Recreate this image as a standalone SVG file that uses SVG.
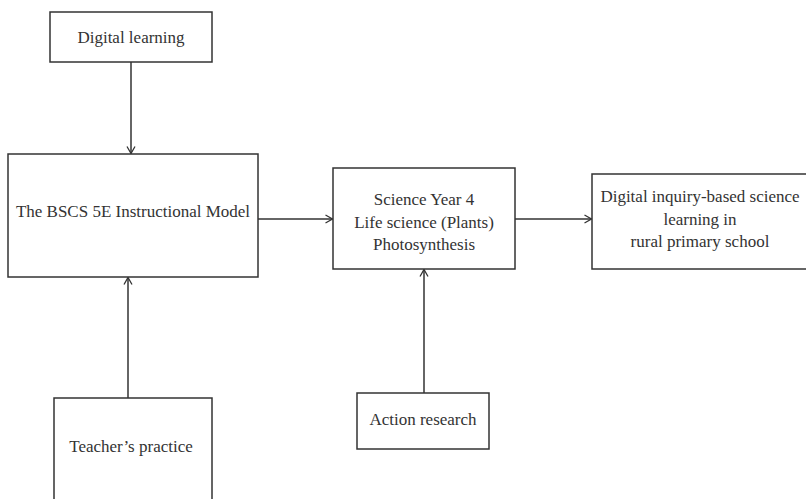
<svg xmlns="http://www.w3.org/2000/svg" width="806" height="499" viewBox="0 0 806 499">
<defs>
<style>
.box{fill:#fff;stroke:#333;stroke-width:1.5}
.lbl{font-family:"Liberation Serif","DejaVu Serif",serif;font-size:17px;fill:#333;text-anchor:middle}
.conn{fill:none;stroke:#333;stroke-width:1.5}
</style>
<marker id="arr" viewBox="0 0 10 10" refX="9" refY="5" markerWidth="10" markerHeight="10" markerUnits="userSpaceOnUse" orient="auto">
<path d="M2,1 L9,5 L2,9" fill="none" stroke="#333" stroke-width="1.3"/>
</marker>
</defs>
<rect width="806" height="499" fill="#fff"/>
<g id="connectors">
<line class="conn" x1="131" y1="62" x2="131" y2="153.5" marker-end="url(#arr)"/>
<line class="conn" x1="128" y1="398" x2="128" y2="277.5" marker-end="url(#arr)"/>
<line class="conn" x1="258" y1="219" x2="332.5" y2="219" marker-end="url(#arr)"/>
<line class="conn" x1="424" y1="393" x2="424" y2="269.5" marker-end="url(#arr)"/>
<line class="conn" x1="515" y1="219" x2="591.5" y2="219" marker-end="url(#arr)"/>
</g>
<g id="digital-learning">
<rect class="box" x="50" y="12" width="162" height="50"/>
<text class="lbl" x="131" y="43">Digital learning</text>
</g>
<g id="bscs">
<rect class="box" x="8" y="154" width="250" height="123"/>
<text class="lbl" x="133" y="217">The BSCS 5E Instructional Model</text>
</g>
<g id="teacher">
<rect class="box" x="54" y="398" width="158" height="110"/>
<text class="lbl" x="131" y="452">Teacher’s practice</text>
</g>
<g id="science">
<rect class="box" x="333" y="168" width="182" height="101"/>
<text class="lbl" x="424" y="205">Science Year 4</text>
<text class="lbl" x="424" y="228">Life science (Plants)</text>
<text class="lbl" x="424" y="250">Photosynthesis</text>
</g>
<g id="action-research">
<rect class="box" x="357" y="393" width="132" height="56"/>
<text class="lbl" x="423" y="425">Action research</text>
</g>
<g id="outcome">
<rect class="box" x="592" y="174" width="220" height="95"/>
<text class="lbl" x="700" y="202">Digital inquiry-based science</text>
<text class="lbl" x="700" y="225">learning in</text>
<text class="lbl" x="700" y="247">rural primary school</text>
</g>
</svg>
